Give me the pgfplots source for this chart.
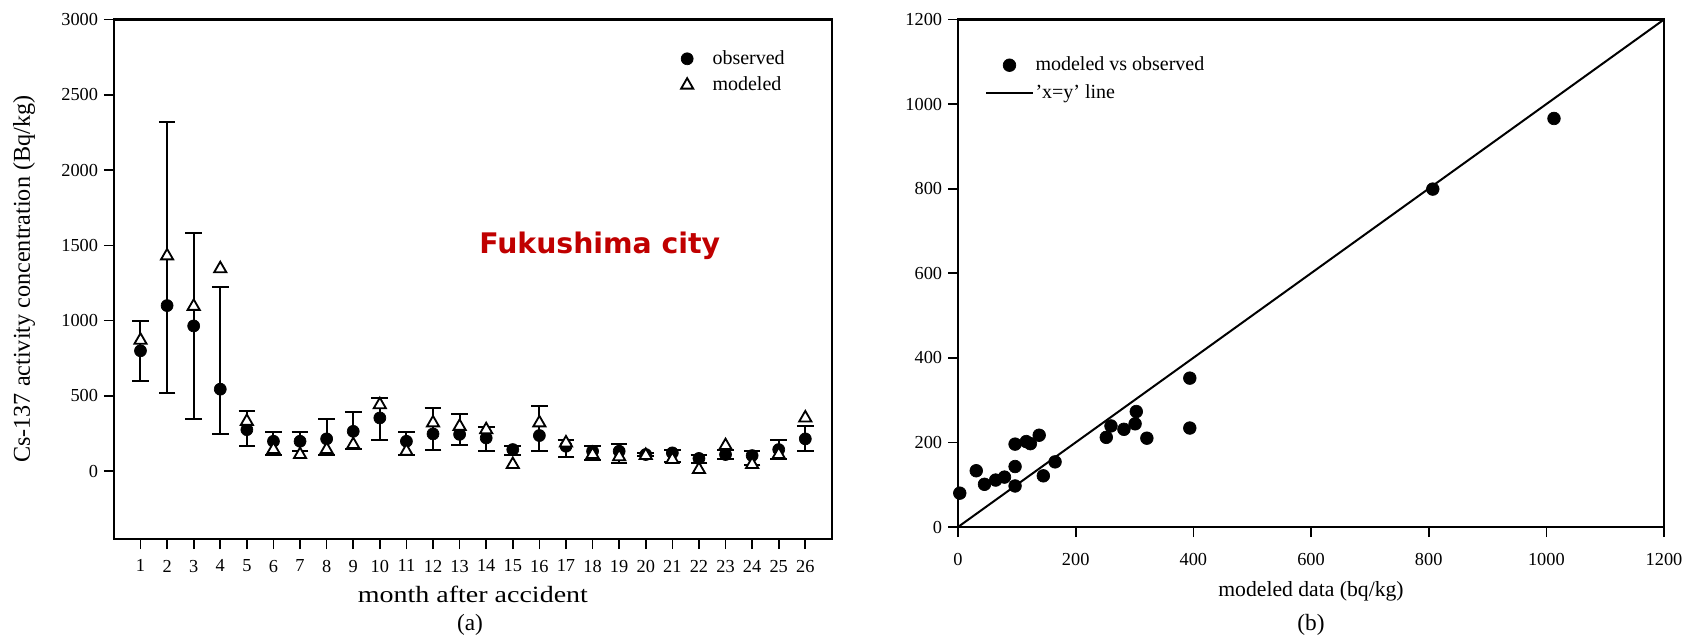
\documentclass[border=0pt]{standalone}
\usepackage{fontspec}
\setmainfont{Liberation Serif}
\newfontfamily\dejavu{DejaVu Sans}
\usepackage{pgfplots}
\pgfplotsset{compat=1.18}
\definecolor{fukred}{RGB}{192,0,0}
\begin{document}
\begin{tikzpicture}
\useasboundingbox (0,0) rectangle (1020pt,383.4pt);
\pgfplotsset{
  common/.style={
    scale only axis, anchor=south west, clip=false,
    axis line style={line width=1.3pt},
    tick style={line width=1pt, black},
    tick align=outside, major tick length=6pt,
    xtick pos=left, ytick pos=left,
    /pgf/number format/assume math mode=true,
    /pgf/number format/1000 sep={},
    legend cell align=left,
  },
  mkleg/.style={legend image code/.code={\path (0pt,0pt) (28pt,0pt);\draw[mark repeat=2,mark phase=2,##1] plot coordinates {(0pt,0pt)(14pt,0pt)(28pt,0pt)};}},
  lnleg/.style={legend image code/.code={\draw[##1] (0pt,0pt) -- (28pt,0pt);}},
}
% ---------------- left panel ----------------
\begin{axis}[common,
  at={(68.34pt,60pt)}, width=430.8pt, height=311.7pt,
  xmin=0, xmax=27, ymin=-450, ymax=3000,
  xtick={1,...,26}, ytick={0,500,...,3000},
  tick label style={font=\fontsize{11}{12}\selectfont},
  xticklabel style={yshift=-3pt},
  xlabel={\scalebox{1.2}[1]{month after accident}},
  ylabel={Cs-137 activity concentration (Bq/kg)},
  xlabel style={at={(axis description cs:0.5,-0.106)}, anchor=center, font=\fontsize{14}{16}\selectfont},
  ylabel style={at={(axis description cs:-0.125,0.5)}, anchor=center, rotate=0, font=\fontsize{14.5}{16}\selectfont},
  legend style={at={(axis description cs:0.765,0.944)}, anchor=north west, draw=none, fill=none,
    font=\fontsize{12}{14}\selectfont, row sep=4pt, inner sep=0pt, nodes={inner sep=1pt}},
]
\addplot[only marks, mark=*, mark size=3.6pt, black, mkleg,
  error bars/.cd, y dir=both, y explicit,
  error bar style={line width=1.2pt},
  error mark options={rotate=90, mark size=5pt, line width=1.2pt}]
coordinates {
(1,800) += (0,200) -= (0,200)
(2,1100) += (0,1220) -= (0,580)
(3,965) += (0,615) -= (0,620)
(4,545) += (0,680) -= (0,295)
(5,276) += (0,126) -= (0,110)
(6,199) += (0,60) -= (0,88)
(7,199) += (0,60) -= (0,62)
(8,215) += (0,132) -= (0,104)
(9,265) += (0,126) -= (0,114)
(10,354) += (0,132) -= (0,144)
(11,199) += (0,60) -= (0,94)
(12,248) += (0,172) -= (0,108)
(13,245) += (0,135) -= (0,68)
(14,221) += (0,70) -= (0,88)
(15,144) += (0,22) -= (0,33)
(16,237) += (0,194) -= (0,100)
(17,166) += (0,44) -= (0,70)
(18,133) += (0,33) -= (0,59)
(19,133) += (0,51) -= (0,77)
(20,111) += (0,10) -= (0,10)
(21,122) += (0,22) -= (0,62)
(22,85) += (0,26) -= (0,29)
(23,111) += (0,33) -= (0,33)
(24,104) += (0,29) -= (0,64)
(25,144) += (0,66) -= (0,61)
(26,215) += (0,83) -= (0,82)
};
\addlegendentry{observed}
\addplot[only marks, mark=triangle*, mark size=4.2pt, mkleg,
  mark options={fill=white, draw=black, line width=1.1pt}]
coordinates {
(1,870)(2,1430)(3,1095)(4,1345)(5,331)(6,144)(7,111)(8,144)(9,177)(10,442)
(11,133)(12,321)(13,298)(14,276)(15,45)(16,321)(17,188)(18,111)(19,96)(20,105)
(21,78)(22,12)(23,170)(24,45)(25,111)(26,354)
};
\addlegendentry{modeled}
\node[anchor=base, text=fukred, font=\dejavu\bfseries\fontsize{17}{19}\selectfont]
  at (axis cs:18.27,1448) {Fukushima city};
\node[font=\fontsize{14}{16}\selectfont] at (axis description cs:0.496,-0.1655) {(a)};
\end{axis}
% ---------------- right panel ----------------
\begin{axis}[common,
  at={(574.8pt,67.2pt)}, width=423.6pt, height=304.5pt,
  xmin=0, xmax=1200, ymin=0, ymax=1200,
  xtick={0,200,...,1200}, ytick={0,200,...,1200},
  tick label style={font=\fontsize{11}{13}\selectfont},
  xticklabel style={yshift=-6pt},
  xlabel={modeled data (bq/kg)},
  xlabel style={at={(axis description cs:0.5,-0.126)}, anchor=center, font=\fontsize{13}{15}\selectfont},
  legend style={at={(axis description cs:0.038,0.93)}, anchor=north west, draw=none, fill=none,
    font=\fontsize{12}{14}\selectfont, row sep=5pt, inner sep=0pt, nodes={inner sep=1pt}},
]
\addplot[only marks, mark=*, mark size=3.8pt, black, mkleg]
coordinates {
(3,80)(31,133)(45,101)(64,111)(79,118)(97,196)(97,143)(97,97)(116,202)(123,197)
(138,217)(145,121)(165,154)(252,212)(260,239)(282,231)(301,244)(303,273)(321,210)
(394,352)(394,234)(807,799)(1013,966)
};
\addlegendentry{modeled vs observed}
\addplot[black, line width=1.2pt, lnleg] coordinates {(0,0)(1200,1200)};
\addlegendentry{'x=y' line}
\node[font=\fontsize{14}{16}\selectfont] at (axis description cs:0.5,-0.193) {(b)};
\end{axis}
\end{tikzpicture}
\end{document}
